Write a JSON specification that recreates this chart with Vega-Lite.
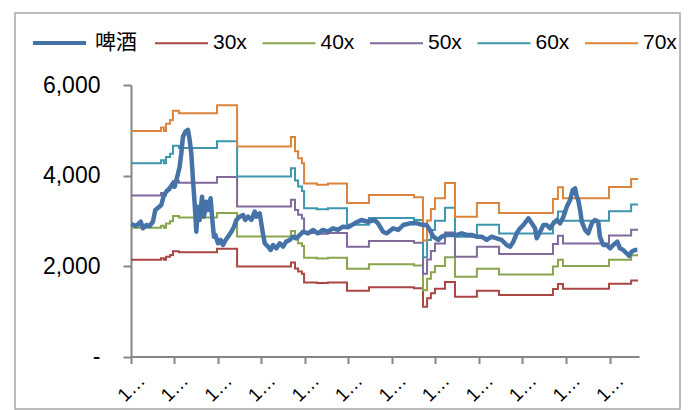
{
  "$schema": "https://vega.github.io/schema/vega-lite/v6.json",
  "width": 665,
  "height": 396,
  "autosize": {"type": "none"},
  "padding": {"left": 15, "top": 13, "right": 17, "bottom": 1},
  "background": "white",
  "config": {
    "view": {"stroke": "#a6a6a6", "strokeWidth": 1.5},
    "font": "Liberation Sans"
  },
  "datasets": {
    "index": [
      {"d": 1, "v": 2928}, {"d": 22, "v": 2884}, {"d": 41, "v": 2979}, {"d": 50, "v": 2833},
      {"d": 64, "v": 2906}, {"d": 78, "v": 2884}, {"d": 92, "v": 2979}, {"d": 102, "v": 3238},
      {"d": 116, "v": 3297}, {"d": 127, "v": 3348}, {"d": 138, "v": 3569}, {"d": 148, "v": 3642},
      {"d": 162, "v": 3717}, {"d": 176, "v": 3828}, {"d": 183, "v": 3753}, {"d": 194, "v": 3974},
      {"d": 204, "v": 4195}, {"d": 211, "v": 4491}, {"d": 218, "v": 4858}, {"d": 228, "v": 4968},
      {"d": 239, "v": 5006}, {"d": 246, "v": 4785}, {"d": 253, "v": 4491}, {"d": 260, "v": 3901},
      {"d": 267, "v": 3386}, {"d": 274, "v": 2758}, {"d": 281, "v": 3311}, {"d": 288, "v": 3017},
      {"d": 298, "v": 3532}, {"d": 306, "v": 3090}, {"d": 316, "v": 3421}, {"d": 323, "v": 3238},
      {"d": 334, "v": 3496}, {"d": 340, "v": 3090}, {"d": 348, "v": 2648}, {"d": 354, "v": 2685},
      {"d": 365, "v": 2502}, {"d": 376, "v": 2575}, {"d": 386, "v": 2464}, {"d": 397, "v": 2575},
      {"d": 407, "v": 2648}, {"d": 421, "v": 2758}, {"d": 432, "v": 2869}, {"d": 442, "v": 3017},
      {"d": 456, "v": 3090}, {"d": 470, "v": 3127}, {"d": 479, "v": 3017}, {"d": 491, "v": 3090},
      {"d": 505, "v": 3017}, {"d": 519, "v": 3200}, {"d": 526, "v": 3090}, {"d": 540, "v": 3164},
      {"d": 551, "v": 2796}, {"d": 561, "v": 2502}, {"d": 575, "v": 2427}, {"d": 586, "v": 2354},
      {"d": 596, "v": 2464}, {"d": 610, "v": 2391}, {"d": 624, "v": 2502}, {"d": 638, "v": 2427},
      {"d": 651, "v": 2538}, {"d": 666, "v": 2575}, {"d": 680, "v": 2648}, {"d": 693, "v": 2612},
      {"d": 708, "v": 2685}, {"d": 722, "v": 2758}, {"d": 743, "v": 2722}, {"d": 763, "v": 2796},
      {"d": 784, "v": 2722}, {"d": 805, "v": 2796}, {"d": 826, "v": 2758}, {"d": 847, "v": 2833},
      {"d": 868, "v": 2796}, {"d": 889, "v": 2869}, {"d": 910, "v": 2855}, {"d": 938, "v": 2943},
      {"d": 966, "v": 3017}, {"d": 994, "v": 2979}, {"d": 1022, "v": 3017}, {"d": 1036, "v": 2943},
      {"d": 1057, "v": 2758}, {"d": 1073, "v": 2722}, {"d": 1100, "v": 2833}, {"d": 1121, "v": 2796},
      {"d": 1142, "v": 2906}, {"d": 1170, "v": 2943}, {"d": 1199, "v": 2943}, {"d": 1226, "v": 2906},
      {"d": 1240, "v": 2906}, {"d": 1254, "v": 2796}, {"d": 1268, "v": 2648}, {"d": 1289, "v": 2575},
      {"d": 1303, "v": 2648}, {"d": 1324, "v": 2685}, {"d": 1345, "v": 2685}, {"d": 1366, "v": 2685},
      {"d": 1387, "v": 2722}, {"d": 1408, "v": 2685}, {"d": 1429, "v": 2685}, {"d": 1450, "v": 2648},
      {"d": 1471, "v": 2648}, {"d": 1492, "v": 2575}, {"d": 1513, "v": 2648}, {"d": 1534, "v": 2612},
      {"d": 1555, "v": 2575}, {"d": 1576, "v": 2464}, {"d": 1590, "v": 2427}, {"d": 1604, "v": 2538},
      {"d": 1618, "v": 2722}, {"d": 1632, "v": 2833}, {"d": 1646, "v": 2906}, {"d": 1667, "v": 3054},
      {"d": 1681, "v": 2943}, {"d": 1695, "v": 2833}, {"d": 1702, "v": 2612}, {"d": 1716, "v": 2758},
      {"d": 1730, "v": 2906}, {"d": 1744, "v": 2906}, {"d": 1758, "v": 2833}, {"d": 1772, "v": 2943},
      {"d": 1786, "v": 3017}, {"d": 1800, "v": 2943}, {"d": 1814, "v": 3090}, {"d": 1828, "v": 3311},
      {"d": 1842, "v": 3459}, {"d": 1853, "v": 3680}, {"d": 1863, "v": 3717}, {"d": 1870, "v": 3532},
      {"d": 1876, "v": 3459}, {"d": 1884, "v": 3238}, {"d": 1891, "v": 2979}, {"d": 1905, "v": 2796},
      {"d": 1918, "v": 2722}, {"d": 1933, "v": 2943}, {"d": 1946, "v": 3017}, {"d": 1960, "v": 2979},
      {"d": 1967, "v": 2648}, {"d": 1981, "v": 2464}, {"d": 1996, "v": 2464}, {"d": 2010, "v": 2391},
      {"d": 2023, "v": 2464}, {"d": 2040, "v": 2538}, {"d": 2051, "v": 2391}, {"d": 2065, "v": 2354},
      {"d": 2079, "v": 2281}, {"d": 2090, "v": 2221}, {"d": 2100, "v": 2317}, {"d": 2114, "v": 2354},
      {"d": 2124, "v": 2354}
    ],
    "bands": [
      {"d": 0, "30x": 2136, "40x": 2848, "50x": 3560, "60x": 4272, "70x": 4984},
      {"d": 126, "30x": 2169, "40x": 2892, "50x": 3615, "60x": 4338, "70x": 5061},
      {"d": 138, "30x": 2136, "40x": 2848, "50x": 3560, "60x": 4272, "70x": 4984},
      {"d": 147, "30x": 2205, "40x": 2940, "50x": 3675, "60x": 4410, "70x": 5145},
      {"d": 164, "30x": 2241, "40x": 2988, "50x": 3735, "60x": 4482, "70x": 5229},
      {"d": 176, "30x": 2328, "40x": 3104, "50x": 3880, "60x": 4656, "70x": 5432},
      {"d": 201, "30x": 2304, "40x": 3072, "50x": 3840, "60x": 4608, "70x": 5376},
      {"d": 361, "30x": 2379, "40x": 3172, "50x": 3965, "60x": 4758, "70x": 5551},
      {"d": 445, "30x": 1989, "40x": 2652, "50x": 3315, "60x": 3978, "70x": 4641},
      {"d": 671, "30x": 2079, "40x": 2772, "50x": 3465, "60x": 4158, "70x": 4851},
      {"d": 688, "30x": 1944, "40x": 2592, "50x": 3240, "60x": 3888, "70x": 4536},
      {"d": 701, "30x": 1878, "40x": 2504, "50x": 3130, "60x": 3756, "70x": 4382},
      {"d": 717, "30x": 1830, "40x": 2440, "50x": 3050, "60x": 3660, "70x": 4270},
      {"d": 726, "30x": 1638, "40x": 2184, "50x": 2730, "60x": 3276, "70x": 3822},
      {"d": 780, "30x": 1626, "40x": 2168, "50x": 2710, "60x": 3252, "70x": 3794},
      {"d": 826, "30x": 1638, "40x": 2184, "50x": 2730, "60x": 3276, "70x": 3822},
      {"d": 906, "30x": 1455, "40x": 1940, "50x": 2425, "60x": 2910, "70x": 3395},
      {"d": 998, "30x": 1530, "40x": 2040, "50x": 2550, "60x": 3060, "70x": 3570},
      {"d": 1187, "30x": 1509, "40x": 2012, "50x": 2515, "60x": 3018, "70x": 3521},
      {"d": 1225, "30x": 1098, "40x": 1464, "50x": 1830, "60x": 2196, "70x": 2562},
      {"d": 1242, "30x": 1287, "40x": 1716, "50x": 2145, "60x": 2574, "70x": 3003},
      {"d": 1258, "30x": 1398, "40x": 1864, "50x": 2330, "60x": 2796, "70x": 3262},
      {"d": 1275, "30x": 1500, "40x": 2000, "50x": 2500, "60x": 3000, "70x": 3500},
      {"d": 1317, "30x": 1644, "40x": 2192, "50x": 2740, "60x": 3288, "70x": 3836},
      {"d": 1359, "30x": 1323, "40x": 1764, "50x": 2205, "60x": 2646, "70x": 3087},
      {"d": 1451, "30x": 1455, "40x": 1940, "50x": 2425, "60x": 2910, "70x": 3395},
      {"d": 1544, "30x": 1359, "40x": 1812, "50x": 2265, "60x": 2718, "70x": 3171},
      {"d": 1770, "30x": 1491, "40x": 1988, "50x": 2485, "60x": 2982, "70x": 3479},
      {"d": 1791, "30x": 1602, "40x": 2136, "50x": 2670, "60x": 3204, "70x": 3738},
      {"d": 1812, "30x": 1500, "40x": 2000, "50x": 2500, "60x": 3000, "70x": 3500},
      {"d": 2005, "30x": 1605, "40x": 2140, "50x": 2675, "60x": 3210, "70x": 3745},
      {"d": 2098, "30x": 1680, "40x": 2240, "50x": 2800, "60x": 3360, "70x": 3920},
      {"d": 2127, "30x": 1680, "40x": 2240, "50x": 2800, "60x": 3360, "70x": 3920}
    ]
  },
  "encoding": {
    "x": {
      "field": "d",
      "type": "quantitative",
      "scale": {"domain": [0, 2131], "range": [116, 624], "nice": false, "zero": false},
      "axis": {
        "orient": "bottom",
        "offset": -52.5,
        "title": null,
        "grid": false,
        "values": [0, 181, 365, 547, 731, 912, 1096, 1277, 1461, 1642, 1826, 2008],
        "labelExpr": "timeFormat(datetime(2011, 0, 1 + datum.value), '%y-%m-%d')",
        "labelAngle": -45,
        "labelAlign": "center",
        "labelBaseline": "middle",
        "labelPadding": 24,
        "labelLimit": 34,
        "labelFontSize": 19,
        "labelFont": "Liberation Sans",
        "labelColor": "#000000",
        "labelOverlap": false,
        "labelFlush": false,
        "tickSize": 7,
        "tickWidth": 2,
        "tickColor": "#868686",
        "domainColor": "#868686",
        "domainWidth": 2
      }
    },
    "y": {
      "field": "v",
      "type": "quantitative",
      "scale": {"domain": [0, 6000], "range": [343.5, 72], "nice": false, "zero": false},
      "axis": {
        "orient": "left",
        "offset": -116,
        "title": null,
        "grid": false,
        "values": [0, 2000, 4000, 6000],
        "labelExpr": "datum.value === 0 ? '-' : format(datum.value, ',')",
        "labelFontSize": 23,
        "labelFont": "Liberation Sans",
        "labelColor": "#000000",
        "labelPadding": 23,
        "tickSize": 8,
        "tickWidth": 2,
        "tickColor": "#868686",
        "domainColor": "#868686",
        "domainWidth": 2
      }
    }
  },
  "resolve": {"scale": {"color": "independent"}, "legend": {"color": "independent"}},
  "layer": [
    {
      "data": {"name": "bands"},
      "transform": [{"fold": ["30x", "40x", "50x", "60x", "70x"], "as": ["s", "v"]}],
      "mark": {"type": "line", "interpolate": "step-after", "strokeWidth": 2},
      "encoding": {
        "color": {
          "field": "s",
          "type": "nominal",
          "scale": {
            "domain": ["30x", "40x", "50x", "60x", "70x"],
            "range": ["#AA4643", "#89A54E", "#80699B", "#3D96AE", "#DB843D"]
          },
          "legend": {
            "orient": "none",
            "legendX": 139,
            "legendY": 2.5,
            "direction": "horizontal",
            "title": null,
            "padding": 0,
            "symbolType": "stroke",
            "symbolSize": 2809,
            "symbolStrokeWidth": 2,
            "labelFontSize": 21,
            "labelFont": "Liberation Sans",
            "labelColor": "#000000",
            "labelOffset": 4,
            "columnPadding": 11.5,
            "labelLimit": 200
          }
        }
      }
    },
    {
      "data": {"name": "index"},
      "mark": {"type": "line", "strokeWidth": 4.5, "strokeJoin": "round"},
      "encoding": {
        "color": {
          "datum": "啤酒",
          "scale": {"domain": ["啤酒"], "range": ["#4572A7"]},
          "legend": {
            "orient": "none",
            "legendX": 16,
            "legendY": 1.5,
            "direction": "horizontal",
            "title": null,
            "padding": 0,
            "symbolType": "stroke",
            "symbolSize": 2809,
            "symbolStrokeWidth": 4,
            "labelFontSize": 21,
            "labelFont": "Liberation Sans, Noto Sans CJK SC",
            "labelColor": "#000000",
            "labelOffset": 7,
            "labelLimit": 200
          }
        }
      }
    }
  ]
}
